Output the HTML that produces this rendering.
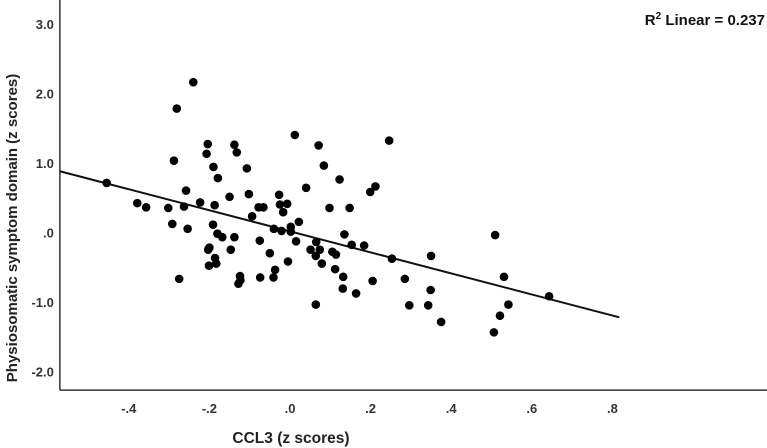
<!DOCTYPE html>
<html><head><meta charset="utf-8"><style>
html,body{margin:0;padding:0;background:#fff;}
svg{display:block;font-family:"Liberation Sans",Arial,sans-serif;}
</style></head><body>
<svg id="chart" width="767" height="448" viewBox="0 0 767 448">
<g id="axes"></g>
<g id="points"></g>
<text x="765" y="25" text-anchor="end" font-size="15" font-weight="bold" fill="#111">R<tspan dy="-6" font-size="10">2</tspan><tspan dy="6"> Linear = 0.237</tspan></text>
<text x="291" y="443" text-anchor="middle" font-size="15.5" font-weight="bold" fill="#222">CCL3 (z scores)</text>
<text transform="translate(17,228) rotate(-90)" text-anchor="middle" font-size="15" font-weight="bold" fill="#222">Physiosomatic symptom domain (z scores)</text>
</svg>
<script>
const xTicks=[-0.4,-0.2,0,0.2,0.4,0.6,0.8];
const xTickLabels=["-.4","-.2",".0",".2",".4",".6",".8"];
const yTicks=[3,2,1,0,-1,-2];
const yTickLabels=["3.0","2.0","1.0",".0","-1.0","-2.0"];
const xVals=[-0.455,-0.379,-0.357,-0.302,-0.292,-0.275,-0.288,-0.281,-0.240,-0.258,-0.263,-0.254,-0.223,-0.204,-0.207,-0.190,-0.179,-0.187,-0.191,-0.180,-0.168,-0.200,-0.203,-0.186,-0.201,-0.183,-0.138,-0.132,-0.107,-0.150,-0.102,-0.138,-0.147,-0.124,-0.128,-0.123,-0.094,-0.078,-0.066,-0.075,-0.074,-0.050,-0.037,-0.041,-0.040,-0.021,-0.027,-0.025,-0.007,-0.017,0.002,0.002,0.022,0.015,-0.005,0.012,0.040,0.071,0.084,0.123,0.098,0.065,0.051,0.074,0.064,0.079,0.105,0.114,0.112,0.064,0.135,0.132,0.131,0.148,0.153,0.184,0.164,0.205,0.199,0.212,0.246,0.253,0.350,0.285,0.349,0.296,0.343,0.375,0.509,0.531,0.542,0.521,0.506,0.643];
const yVals=[0.72,0.43,0.37,0.36,0.13,-0.66,1.04,1.79,2.17,0.61,0.38,0.06,0.44,1.28,1.14,0.95,0.79,0.40,0.12,-0.01,-0.06,-0.21,-0.24,-0.36,-0.47,-0.44,1.27,1.16,0.93,0.52,0.56,-0.06,-0.24,-0.62,-0.73,-0.68,0.24,0.37,0.37,-0.11,-0.64,-0.29,-0.53,-0.64,0.06,0.03,0.55,0.41,0.42,0.30,0.09,0.02,0.16,-0.12,-0.41,1.41,0.65,1.26,0.97,0.77,0.36,-0.13,-0.24,-0.24,-0.33,-0.44,-0.27,-0.31,-0.52,-1.03,-0.02,-0.63,-0.80,0.36,-0.17,-0.18,-0.87,-0.69,0.59,0.67,1.33,-0.37,-0.33,-0.66,-0.82,-1.04,-1.04,-1.28,-0.03,-0.63,-1.03,-1.19,-1.43,-0.91];
const fitSlope=-1.514, fitIntercept=0.024, fitXMax=0.817;
const xMin=-0.571, yMin=-2.26, yMax=3.35;
const X=v=>290+v*403, Y=v=>233-v*69.5;
const NS="http://www.w3.org/2000/svg";
const axes=document.getElementById('axes'), pts=document.getElementById('points');
function mk(tag,attrs,parent){const e=document.createElementNS(NS,tag);for(const k in attrs)e.setAttribute(k,attrs[k]);parent.appendChild(e);return e;}
const L=X(xMin), B=Y(yMin);
let a=mk('line',{x1:L,y1:0,x2:L,y2:B,stroke:'#333','stroke-width':1.5},axes);


a=mk('line',{x1:L,y1:B,x2:767,y2:B,stroke:'#333','stroke-width':1.5},axes);


xTicks.forEach((t,i)=>{const e=mk('text',{x:X(t),y:B+23,'text-anchor':'middle','font-size':13,'font-weight':'bold',fill:'#333'},axes);e.textContent=xTickLabels[i];

});
yTicks.forEach((t,i)=>{const e=mk('text',{x:L-6,y:Y(t)+4.5,'text-anchor':'end','font-size':13,'font-weight':'bold',fill:'#333'},axes);e.textContent=yTickLabels[i];

});
const fl=mk('line',{x1:X(xMin),y1:Y(fitIntercept+fitSlope*xMin),x2:X(fitXMax),y2:Y(fitIntercept+fitSlope*fitXMax),stroke:'#111','stroke-width':2},pts);


xVals.forEach((v,i)=>{const c=mk('circle',{cx:X(v),cy:Y(yVals[i]),r:4.3,fill:'#000'},pts);

});
</script>
</body></html>
